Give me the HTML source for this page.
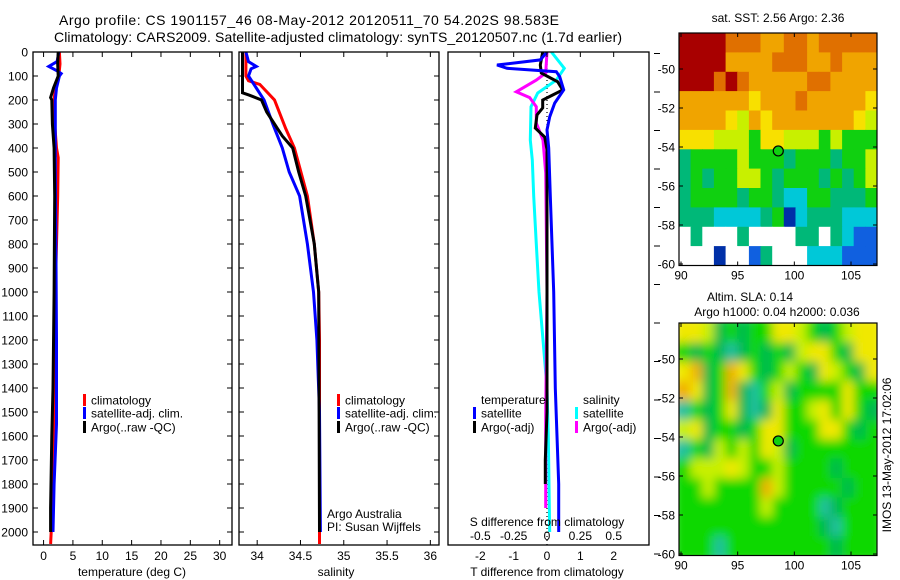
<!DOCTYPE html>
<html><head><meta charset="utf-8"><style>
html,body{margin:0;padding:0;background:#fff;}
svg{display:block;font-family:"Liberation Sans",sans-serif;}
text{fill:#000;}
</style></head><body>
<svg id="fig" width="900" height="580" viewBox="0 0 900 580" xmlns="http://www.w3.org/2000/svg">
<defs>
<clipPath id="c1"><rect x="33" y="52" width="199" height="493"/></clipPath>
<clipPath id="c2"><rect x="239" y="52" width="200" height="493"/></clipPath>
<clipPath id="c3"><rect x="448" y="52" width="201" height="493"/></clipPath>
<clipPath id="cm1"><rect x="679" y="33" width="198" height="233"/></clipPath>
<clipPath id="cm2"><rect x="679" y="323" width="198" height="233"/></clipPath>
<filter id="blur" x="-5%" y="-5%" width="110%" height="110%"><feGaussianBlur stdDeviation="5"/></filter>
</defs>
<text x="309" y="25" font-size="14" text-anchor="middle" textLength="500">Argo profile: CS 1901157_46 08-May-2012 20120511_70 54.202S 98.583E</text>
<text x="338" y="42" font-size="14" text-anchor="middle" textLength="568">Climatology: CARS2009. Satellite-adjusted climatology: synTS_20120507.nc (1.7d earlier)</text>
<g id="g1"></g>
<g id="g2"></g>
<g id="g3"></g>
<g id="m1"></g>
<g id="m2"></g>
<text x="778" y="22" font-size="12" text-anchor="middle">sat. SST: 2.56 Argo: 2.36</text>
<text x="750" y="301" font-size="12" text-anchor="middle">Altim. SLA: 0.14</text>
<text x="777" y="316" font-size="12" text-anchor="middle">Argo h1000: 0.04 h2000: 0.036</text>
<text transform="translate(891,455) rotate(-90)" font-size="12" text-anchor="middle">IMOS 13-May-2012 17:02:06</text>
</svg>
<script>
// ---- data ----
const depthTicks = [0,100,200,300,400,500,600,700,800,900,1000,1100,1200,1300,1400,1500,1600,1700,1800,1900,2000];
const tempTicks = [0,5,10,15,20,25,30];
const salTicks = [34,34.5,35,35.5,36];
const tdiffTicks = [-2,-1,0,1,2];
const sdiffTicks = [-0.5,-0.25,0,0.25,0.5];
const sdiffTickLabels = ['-0.5','-0.25','0','0.25','0.5'];

const tClimDepth = [0,50,100,150,200,300,400,440,600,1000,1500,1750,2000,2050];
const tClimVal   = [2.7,2.8,2.6,2.0,1.8,1.9,2.2,2.5,2.4,2.0,1.8,1.5,1.3,1.2];
const tSatDepth  = [0,40,60,80,90,100,150,200,300,500,800,1200,1550,1800,2000];
const tSatVal    = [2.6,2.3,0.9,2.4,3.0,2.7,2.2,2.0,2.0,2.0,2.1,2.2,2.2,1.8,1.6];
const tArgoDepth = [0,50,100,150,190,200,300,400,600,1000,1400,1600,1900,2000];
const tArgoVal   = [2.5,2.4,2.5,1.7,1.2,1.4,1.5,1.8,1.9,1.8,1.6,1.4,1.2,1.2];

const sClimDepth = [0,100,120,135,200,320,400,480,600,800,1000,1200,2050];
const sClimVal   = [33.87,33.87,33.9,34.03,34.2,34.33,34.43,34.49,34.58,34.66,34.71,34.72,34.72];
const sSatDepth  = [0,40,60,70,100,150,200,300,400,500,600,800,1000,1200,1500,2000];
const sSatVal    = [33.87,33.9,33.99,33.93,33.9,33.99,34.08,34.18,34.29,34.37,34.49,34.58,34.65,34.69,34.72,34.73];
const sArgoDepth = [0,170,180,200,250,300,350,400,500,600,800,1000,2000];
const sArgoVal   = [33.83,33.83,33.91,34.05,34.11,34.2,34.29,34.41,34.48,34.56,34.66,34.71,34.72];

const dtSatDepth = [0,33,54,68,82,103,158,213,270,325,400,600,800,1000,1400,1600,1800,2000];
const dtSatVal   = [0,-0.2,-1.5,-1.2,0.28,0.38,0.5,0.23,0.08,0,0.05,0.1,0.15,0.2,0.25,0.3,0.35,0.35];
const dtArgoDepth= [0,54,88,124,158,179,200,233,262,317,354,408,1000,1500,1700,1800];
const dtArgoVal  = [-0.13,-0.2,-0.17,0.32,0.47,0.17,-0.13,-0.13,-0.3,-0.35,-0.07,0,0,0,-0.05,-0.05];
const dsSatDepth = [0,68,117,171,228,367,450,600,800,1000,1200,1400,1600,2000];
const dsSatVal   = [0.033,0.13,0.07,-0.07,-0.12,-0.125,-0.11,-0.1,-0.08,-0.06,-0.03,0,0.01,0.02];
const dsArgoDepth= [0,88,117,166,190,228,296,367,504,1000,1500,1900];
const dsArgoVal  = [0,-0.01,-0.08,-0.23,-0.13,-0.08,-0.08,-0.03,-0.01,0,-0.01,-0.01];

const lonTicks = [90,95,100,105];
const latTicks = [-50,-52,-54,-56,-58,-60];
const floatLon = 98.583, floatLat = -54.202;
const sstRows = [
"RRRRoooOOooOooooo","RRRROOOOoooOOoOOO","RRRoRoOOOOOooOOOO","OOOOOOYOOOoOOOOOY",
"OOOOYyOYOOOOOOOYy","YYYyyyGYYyyyGyGGG","gGGGGyGGGgGGGgGGy","gGgGGyyGgGGGgGgGy",
"gGGGGgGGgccGGgggG","gggccccgGBcgggccc","WgWWWgWWWWggWgcbb","WWWBWWbgWWWcccbbb"];
const slaRows = [
"yyYdGdGGyyYGdGYyy","GdGdcdGdGdYyyGdyy","yOdGOyGdGYGdyYGdy","OydGOdcGYdGGGGyGG",
"cGdGydcdyGGYyGyGd","YydGGdGyyGGGyyGdG","cGdYGYGyYdGGGGGGG","GYYYyYGGYGGGGdGGG",
"GGYGGGGOYGGGGGdGG","GGGGGGGYGGGGcdGGG","GGGGGGGGGGGGdcGGG","GGGcGGGGGGGGGdGGG"];
const sstColors = {R:'#a80000',o:'#e07000',O:'#f0a400',Y:'#f8e000',y:'#c8f000',G:'#10d010',g:'#00b878',c:'#00c8d8',b:'#1060e0',B:'#0030a8',W:'#ffffff'};
const slaColors = {G:'#10d800',d:'#00b850',Y:'#c8f000',y:'#f0e800',O:'#f0b000',c:'#20c0a0'};

// ---- helpers ----
const NS='http://www.w3.org/2000/svg';
function mk(parent,tag,attrs,txt){const e=document.createElementNS(NS,tag);for(const k in attrs)e.setAttribute(k,attrs[k]);if(txt!==undefined)e.textContent=txt;parent.appendChild(e);return e;}
const yTop=52,yBot=545;
const depthY = d => 52 + d*0.24;

function panel(g,x0,x1,xmin,xmax,clip){
  const sx = v => x0 + (v-xmin)/(xmax-xmin)*(x1-x0);
  return sx;
}
function frame(g,x0,x1,name){
  const r=mk(g,'rect',{x:x0,y:yTop,width:x1-x0,height:yBot-yTop,fill:'none',stroke:'#000','stroke-width':1.3});
  
  
  depthTicks.forEach(d=>{const y=depthY(d);
    mk(g,'line',{x1:x0,x2:x0+5,y1:y,y2:y,stroke:'#000'});
    mk(g,'line',{x1:x1,x2:x1-5,y1:y,y2:y,stroke:'#000'});});
}
function series(g,sx,depths,vals,color,w,name,clip){
  const pts=depths.map((d,i)=>sx(vals[i]).toFixed(1)+','+depthY(d).toFixed(1)).join(' ');
  const p=mk(g,'polyline',{points:pts,fill:'none',stroke:color,'stroke-width':w,'stroke-linejoin':'miter','clip-path':'url(#'+clip+')'});
  
  
}
function xTicks(g,sx,ticks,labels,yl){
  ticks.forEach((t,i)=>{const x=sx(t);
    mk(g,'line',{x1:x,x2:x,y1:yBot,y2:yBot-5,stroke:'#000'});
    mk(g,'line',{x1:x,x2:x,y1:yTop,y2:yTop+5,stroke:'#000'});
    const tx=mk(g,'text',{x:x,y:yl,'font-size':12,'text-anchor':'middle'},labels[i]);
    
    
  });
}
function legend(g,x,y,color,label){
  mk(g,'rect',{x:x,y:y-6,width:3,height:12,fill:color});
  const t=mk(g,'text',{x:x+8,y:y+4.5,'font-size':12},label);
  
  
}

// ---- panel 1: temperature ----
const g1=document.getElementById('g1');
const sx1=panel(g1,33,232,-1.8,32.1);
series(g1,sx1,tClimDepth,tClimVal,'#ff0000',3,'temp-climatology-line','c1');
series(g1,sx1,tSatDepth,tSatVal,'#0000ff',3,'temp-satellite-line','c1');
series(g1,sx1,tArgoDepth,tArgoVal,'#000000',3,'temp-argo-line','c1');
frame(g1,33,232,'temperature');
xTicks(g1,sx1,tempTicks,tempTicks.map(String),560);
depthTicks.forEach(d=>{const t=mk(g1,'text',{x:28,y:depthY(d)+4.5,'font-size':12,'text-anchor':'end'},String(d));
  
  });
let t1=mk(g1,'text',{x:132,y:576,'font-size':12,'text-anchor':'middle'},'temperature (deg C)');


legend(g1,83,400,'#ff0000','climatology');
legend(g1,83,413,'#0000ff','satellite-adj. clim.');
legend(g1,83,427,'#000000','Argo(..raw -QC)');

// ---- panel 2: salinity ----
const g2=document.getElementById('g2');
const sx2=panel(g2,239,439,33.79,36.1);
series(g2,sx2,sClimDepth,sClimVal,'#ff0000',3,'sal-climatology-line','c2');
series(g2,sx2,sSatDepth,sSatVal,'#0000ff',3,'sal-satellite-line','c2');
series(g2,sx2,sArgoDepth,sArgoVal,'#000000',3,'sal-argo-line','c2');
frame(g2,239,439,'salinity');
xTicks(g2,sx2,salTicks,salTicks.map(String),560);
let t2=mk(g2,'text',{x:336,y:576,'font-size':12,'text-anchor':'middle'},'salinity');


legend(g2,337,400,'#ff0000','climatology');
legend(g2,337,413,'#0000ff','satellite-adj. clim.');
legend(g2,337,427,'#000000','Argo(..raw -QC)');
let a1=mk(g2,'text',{x:327,y:518,'font-size':12},'Argo Australia');


let a2=mk(g2,'text',{x:327,y:531,'font-size':12},'PI: Susan Wijffels');



// ---- panel 3: differences ----
const g3=document.getElementById('g3');
const sx3=panel(g3,448,649,-2.97,3.06);
const sxs=v=>sx3(v*4);
mk(g3,'line',{x1:sx3(0),x2:sx3(0),y1:yTop,y2:yBot,stroke:'#000','stroke-width':1.2,'stroke-dasharray':'1 3'});
series(g3,sxs,dsSatDepth,dsSatVal,'#00ffff',3,'sdiff-satellite-line','c3');
series(g3,sxs,dsArgoDepth,dsArgoVal,'#ff00ff',3,'sdiff-argo-line','c3');
series(g3,sx3,dtArgoDepth,dtArgoVal,'#000000',3,'tdiff-argo-line','c3');
series(g3,sx3,dtSatDepth,dtSatVal,'#0000ff',3,'tdiff-satellite-line','c3');
mk(g3,'rect',{x:448,y:yTop,width:201,height:yBot-yTop,fill:'none',stroke:'#000','stroke-width':1.3});
tdiffTicks.forEach(t=>{const x=sx3(t);
  mk(g3,'line',{x1:x,x2:x,y1:yTop,y2:yTop+5,stroke:'#000'});
  const tx=mk(g3,'text',{x:x,y:560,'font-size':12,'text-anchor':'middle'},String(t));
  
  });
sdiffTicks.forEach((t,i)=>{const tx=mk(g3,'text',{x:sxs(t),y:540,'font-size':12,'text-anchor':'middle'},sdiffTickLabels[i]);
  
  });
let t3=mk(g3,'text',{x:547,y:526,'font-size':12,'text-anchor':'middle'},'S difference from climatology');


let t4=mk(g3,'text',{x:547,y:576,'font-size':12,'text-anchor':'middle'},'T difference from climatology');


let t5=mk(g3,'text',{x:481,y:404,'font-size':12},'temperature');


let t6=mk(g3,'text',{x:583,y:404,'font-size':12},'salinity');


legend(g3,473,413,'#0000ff','satellite');
legend(g3,473,427,'#000000','Argo(-adj)');
legend(g3,575,413,'#00ffff','satellite');
legend(g3,575,427,'#ff00ff','Argo(-adj)');
for(let y=53.5;y<560;y+=38.5){mk(g3,'line',{x1:654,x2:660,y1:y,y2:y,stroke:'#000'});}

// ---- maps ----
function map(id,rows,colors,y0,clip,smooth){
  const g=document.getElementById(id);
  const x0=679,x1=877,y1=y0+232.5;
  const lx=v=>681+(v-90)*11.333;
  const ly=v=>(y0+36)+(-50-v)*19.5;
  const cw=(x1-x0)/rows[0].length, ch=(y1-y0)/rows.length;
  const cg=mk(g,'g',{'clip-path':'url(#'+clip+')'});
  const ig=mk(cg,'g',smooth?{filter:'url(#blur)'}:{});
  rows.forEach((r,i)=>{[...r].forEach((c,j)=>{
    const rc=mk(ig,'rect',{x:(x0+j*cw-(smooth?6:0)*(j==0)).toFixed(1),y:(y0+i*ch-(smooth?6:0)*(i==0)).toFixed(1),width:(cw+0.6+(smooth?6:0)*(j==0||j==r.length-1)).toFixed(1),height:(ch+0.6+(smooth?6:0)*(i==0||i==rows.length-1)).toFixed(1),fill:colors[c]});
    
    
  });});
  const fr=mk(g,'rect',{x:x0,y:y0,width:x1-x0,height:y1-y0,fill:'none',stroke:'#000','stroke-width':1.2});
  
  
  lonTicks.forEach(v=>{const x=lx(v);
    mk(g,'line',{x1:x,x2:x,y1:y0,y2:y0+4,stroke:'#000'});
    mk(g,'line',{x1:x,x2:x,y1:y1,y2:y1-4,stroke:'#000'});
    const t=mk(g,'text',{x:x,y:y1+14,'font-size':12,'text-anchor':'middle'},String(v));
    
    });
  latTicks.forEach(v=>{const y=ly(v);
    mk(g,'line',{x1:x0,x2:x0+4,y1:y,y2:y,stroke:'#000'});
    mk(g,'line',{x1:x1,x2:x1-4,y1:y,y2:y,stroke:'#000'});
    const t=mk(g,'text',{x:675,y:y+4.5,'font-size':12,'text-anchor':'end'},String(v));
    
    });
  const m=mk(g,'circle',{cx:lx(floatLon),cy:ly(floatLat),r:5,fill:'#10d010',stroke:'#000','stroke-width':1.2});
  
  
}
map('m1',sstRows,sstColors,33,'cm1',false);
map('m2',slaRows,slaColors,323,'cm2',true);
</script>
</body></html>
